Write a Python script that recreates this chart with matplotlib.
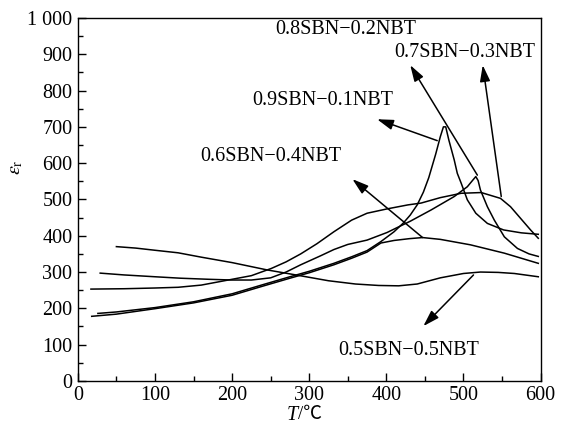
import numpy as np
import matplotlib
matplotlib.use("Agg")
import matplotlib.pyplot as plt
from matplotlib.ticker import MultipleLocator, FuncFormatter

plt.rcParams['font.family'] = ['Liberation Serif', 'DejaVu Serif']
plt.rcParams['mathtext.fontset'] = 'stix'

# valeurs (T en degC, eps_r)
T_05 = [50, 75, 100, 130, 160, 200, 245, 280, 325, 360, 390, 416, 440, 470, 500, 522, 545, 566, 597]
e_05 = [370, 366, 360, 353, 341, 326, 306, 293, 276, 267, 263, 262, 267, 284, 296, 300, 299, 296, 287]

T_06 = [18, 50, 100, 150, 200, 238, 275, 300, 332, 355, 375, 393, 410, 430, 447, 470, 509, 553, 597]
e_06 = [178, 184, 199, 215, 236, 260, 283, 298, 320, 338, 355, 380, 387, 392, 395, 390, 375, 352, 324]

T_09 = [26, 50, 100, 150, 200, 238, 275, 300, 332, 355, 375, 393, 410, 422, 431, 440, 448, 455, 464,
        470, 474, 477, 481, 488, 492, 497, 505, 516, 531, 552, 575, 597]
e_09 = [186, 190, 202, 218, 240, 264, 287, 302, 324, 342, 359, 384, 411, 435, 457, 485, 520, 560, 625,
        673, 700, 700, 664, 609, 572, 545, 499, 462, 434, 416, 408, 404]

T_08 = [29, 60, 100, 133, 170, 200, 225, 250, 270, 289, 315, 332, 350, 375, 401, 431, 458, 488, 505,
        512, 516, 519, 522, 531, 540, 553, 570, 585, 597]
e_08 = [297, 292, 287, 283, 280, 278, 278, 284, 300, 320, 345, 362, 376, 388, 409, 440, 471, 508, 535,
        553, 563, 552, 526, 480, 443, 397, 365, 350, 343]

T_07 = [17, 60, 100, 130, 160, 195, 225, 251, 270, 289, 310, 332, 355, 375, 401, 428, 445, 470, 497,
        523, 548, 561, 574, 587, 597]
e_07 = [253, 254, 256, 258, 264, 278, 290, 310, 328, 350, 378, 411, 443, 462, 474, 485, 490, 505, 517,
        519, 503, 480, 448, 416, 393]

series = [(T_05, e_05), (T_06, e_06), (T_09, e_09), (T_08, e_08), (T_07, e_07)]

labels = ['0.8SBN\u22120.2NBT', '0.7SBN\u22120.3NBT', '0.9SBN\u22120.1NBT',
          '0.6SBN\u22120.4NBT', '0.5SBN\u22120.5NBT']
label_pos = [(347, 967), (502, 906), (317, 774), (250, 617), (429, 83)]
# fleches : (queue, pointe)
arrows = [((518, 567), (431, 870)), ((549, 508), (525, 870)), ((466, 662), (388, 721)),
          ((447, 395), (356, 556)), ((513, 292), (448, 151))]

fig = plt.figure(figsize=(5.64, 4.28), dpi=100)
ax = fig.add_axes([0.138, 0.110, 0.8205, 0.848])

for T, e in series:
    ax.plot(T, e, color='k', lw=1.1)

for (tail, head) in arrows:
    ax.annotate('', xy=head, xytext=tail,
                arrowprops=dict(arrowstyle='-|>,head_length=0.7,head_width=0.22',
                                color='k', lw=1.1, mutation_scale=14,
                                shrinkA=0, shrinkB=0))
for txt, (x, y) in zip(labels, label_pos):
    ax.text(x, y, txt, fontsize=14.5, ha='center', va='center')

ax.set_xlim(0, 600)
ax.set_ylim(0, 1000)
ax.xaxis.set_major_locator(MultipleLocator(100))
ax.xaxis.set_minor_locator(MultipleLocator(50))
ax.yaxis.set_major_locator(MultipleLocator(100))
ax.yaxis.set_minor_locator(MultipleLocator(50))
ax.yaxis.set_major_formatter(FuncFormatter(lambda v, p: '1 000' if v == 1000 else '%d' % v))
ax.tick_params(which='both', direction='in', top=False, right=False, labelsize=14.5, pad=4)
ax.tick_params(which='major', length=6, width=1)
ax.tick_params(which='minor', length=3.5, width=1)
for s in ax.spines.values():
    s.set_linewidth(1)

# titre axe x : T italique + /℃
ax.text(0.475, -0.068, 'T', transform=ax.transAxes, fontsize=14.5, style='italic',
        ha='right', va='top')
ax.text(0.475, -0.068, '/\u2103', transform=ax.transAxes, fontsize=13.5, ha='left', va='top',
        family=['Liberation Serif', 'Noto Sans CJK SC'])
ax.set_ylabel(r'$\varepsilon_{\rm r}$', fontsize=14.5)
ax.yaxis.set_label_coords(-0.113, 0.59)

fig.savefig('out.png', dpi=100)
